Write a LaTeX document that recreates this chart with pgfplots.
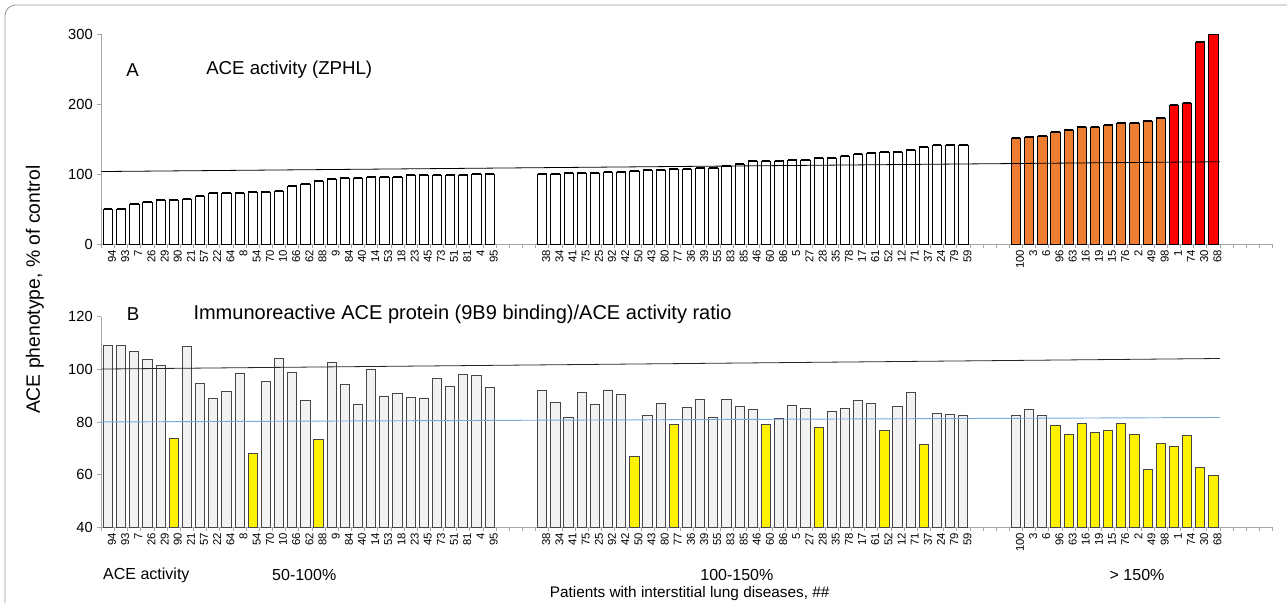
\documentclass[border=0pt]{standalone}
\usepackage{pgfplots}
\pgfplotsset{compat=1.18}
\usepackage{fontspec}
\setmainfont{Liberation Sans}
\definecolor{axgray}{RGB}{166,166,166}
\definecolor{barorange}{RGB}{237,125,49}
\definecolor{barred}{RGB}{255,0,0}
\definecolor{bargray}{RGB}{242,242,242}
\definecolor{baredge}{RGB}{70,70,70}
\definecolor{trendblue}{RGB}{120,170,220}
\definecolor{framegray}{RGB}{150,150,150}

\pgfplotsset{
 panel/.style={
  scale only axis, width=878.4pt, anchor=south west,
  xmin=-0.5, xmax=88.5,
  axis x line*=bottom, axis y line*=left,
  axis line style={axgray, line width=0.6pt},
  xtick={0,...,88},
  xticklabels={94,93,7,26,29,90,21,57,22,64,8,54,70,10,66,62,88,9,84,40,14,53,18,23,45,73,51,81,4,95,,,,38,34,41,75,25,92,42,50,43,80,77,36,39,55,83,85,46,60,86,5,27,28,35,78,17,61,52,12,71,37,24,79,59,,,,100,3,6,96,63,16,19,15,76,2,49,98,1,74,30,68,,,,},
  every major x tick/.append style={draw=none},
  minor xtick={-0.5,0.5,...,88.5},
  every minor x tick/.append style={axgray, line width=0.6pt},
  every major y tick/.append style={axgray, line width=0.6pt},
  tick align=outside,
  minor tick length=3pt, major tick length=3pt,
  xticklabel style={rotate=90, anchor=east, font=\fontsize{8.5}{9}\selectfont, inner sep=1pt, yshift=-3pt},
  yticklabel style={font=\fontsize{11}{13}\selectfont},
  /pgf/number format/assume math mode=true,
  ybar, bar width=0.7, bar shift=0pt,
  clip mode=individual,
 }
}

\begin{document}
\begin{tikzpicture}
% frame
\draw[framegray, line width=0.6pt, rounded corners=8pt] (3.75pt,0pt) -- (3.75pt,448.5pt) -- (965.25pt,448.5pt);

% ---------------- Panel A ----------------
\begin{axis}[panel, at={(76.05pt,269.0pt)}, height=157.5pt,
  ymin=0, ymax=300, ytick={0,100,200,300}]
\addplot[draw=black, fill=white, line width=0.6pt,
  error bars/.cd, y dir=plus, y fixed=0.6,
  error bar style={black, line width=0.4pt},
  error mark options={rotate=90, mark size=3.3pt, line width=1.4pt, black}]
 coordinates {(0,50) (1,50.5) (2,57.6) (3,59.5) (4,62.8) (5,62.8) (6,64.7) (7,68) (8,72.3) (9,72.3) (10,73.3) (11,74.2) (12,74.2) (13,75.7) (14,82.8) (15,86.1) (16,90) (17,92.3) (18,93.7) (19,93.7) (20,95.7) (21,95.7) (22,95.7) (23,98) (24,98) (25,98) (26,98) (27,99) (28,99.3) (29,99.3)
 (33,99.4) (34,100.4) (35,101.4) (36,101.9) (37,101.9) (38,103.3) (39,103.3) (40,104.7) (41,105.2) (42,105.7) (43,106.6) (44,107.1) (45,108) (46,108) (47,111.4) (48,113.8) (49,118) (50,118) (51,118) (52,119.4) (53,120.4) (54,123.3) (55,123.3) (56,125.2) (57,129) (58,130.4) (59,131.9) (60,131.9) (61,134.7) (62,138.5) (63,141.9) (64,141.9) (65,141.9)};
\addplot[draw=black, fill=barorange, line width=0.6pt,
  error bars/.cd, y dir=plus, y fixed=0.6,
  error bar style={black, line width=0.4pt},
  error mark options={rotate=90, mark size=3.3pt, line width=1.4pt, black}]
 coordinates {(69,150.9) (70,152.3) (71,153.8) (72,160) (73,163.3) (74,167.6) (75,167.6) (76,169.5) (77,172.3) (78,173.3) (79,176.1) (80,180.4)};
\addplot[draw=black, fill=barred, line width=0.6pt,
  error bars/.cd, y dir=plus, y fixed=0.6,
  error bar style={black, line width=0.4pt},
  error mark options={rotate=90, mark size=3.3pt, line width=1.4pt, black}]
 coordinates {(81,199) (82,201.4) (83,288) (84,300)};
\addplot[sharp plot, black, line width=0.6pt] coordinates {(-0.5,104) (84.5,118)};
\node[anchor=west, inner sep=0pt, font=\fontsize{14}{16}\selectfont] at (axis cs:1.37,249.4) {A};
\node[anchor=west, inner sep=0pt, font=\fontsize{14}{16}\selectfont] at (axis cs:7.45,249.4) {ACE activity (ZPHL)};
\end{axis}

% ---------------- Panel B ----------------
\begin{axis}[panel, at={(76.05pt,56.78pt)}, height=158pt,
  ymin=40, ymax=120, ytick={40,60,80,100,120}]
\addplot[draw=baredge, fill=bargray, line width=0.7pt]
 coordinates {(0,109.1) (1,109) (2,106.6) (3,103.6) (4,101.3) (6,108.5) (7,94.7) (8,89) (9,91.6) (10,98.6) (12,95.3) (13,104.2) (14,98.9) (15,88.1) (17,102.7) (18,94.3) (19,86.5) (20,100.1) (21,89.6) (22,90.8) (23,89.4) (24,89) (25,96.7) (26,93.4) (27,98) (28,97.7) (29,93.2)
 (33,92) (34,87.3) (35,81.7) (36,91.3) (37,86.6) (38,91.9) (39,90.6) (41,82.3) (42,87.2) (44,85.6) (45,88.6) (46,81.7) (47,88.6) (48,85.7) (49,84.9) (51,81.5) (52,86.1) (53,85.3) (55,83.9) (56,85.3) (57,88.1) (58,87.1) (60,85.8) (61,91.1) (63,83.3) (64,82.7) (65,82.4)
 (69,82.3) (70,84.7) (71,82.5)};
\addplot[draw=baredge, fill=yellow, line width=0.7pt]
 coordinates {(5,73.7) (11,68.2) (16,73.2) (40,66.9) (43,78.9) (50,79.1) (54,77.9) (59,76.7) (62,71.4)
 (72,78.6) (73,75.1) (74,79.6) (75,76.1) (76,76.6) (77,79.5) (78,75.1) (79,62.1) (80,72) (81,70.7) (82,74.7) (83,62.6) (84,59.6)};
\addplot[sharp plot, black!85, line width=0.6pt] coordinates {(-0.5,100.1) (84.5,104.1)};
\addplot[sharp plot, trendblue, line width=0.7pt] coordinates {(-0.5,80) (84.5,81.7)};
\node[anchor=west, inner sep=0pt, font=\fontsize{14}{16}\selectfont] at (axis cs:1.42,121.0) {B};
\node[anchor=west, inner sep=0pt, font=\fontsize{15}{17}\selectfont] at (axis cs:6.48,121.0) {Immunoreactive ACE protein (9B9 binding)/ACE activity ratio};
\node[anchor=west, inner sep=0pt, font=\fontsize{12}{14}\selectfont] at (axis cs:-0.38,21.9) {ACE activity};
\node[anchor=west, inner sep=0pt, font=\fontsize{12}{14}\selectfont] at (axis cs:12.46,21.9) {50-100\%};
\node[anchor=west, inner sep=0pt, font=\fontsize{12}{14}\selectfont] at (axis cs:45,21.9) {100-150\%};
\node[anchor=west, inner sep=0pt, font=\fontsize{12}{14}\selectfont] at (axis cs:76.1,21.9) {> 150\%};
\node[anchor=center, inner sep=0pt, font=\fontsize{11.5}{13}\selectfont] at (axis cs:44.2,15.0) {Patients with interstitial lung diseases, \#\#};
\node[anchor=center, inner sep=0pt, rotate=90, font=\fontsize{14.5}{16}\selectfont] at (axis cs:-5.55,130.2) {ACE phenotype, \% of control};
\end{axis}

\pgfresetboundingbox
\path (0pt,0pt) rectangle (965.25pt,452.25pt);
\end{tikzpicture}
\end{document}
